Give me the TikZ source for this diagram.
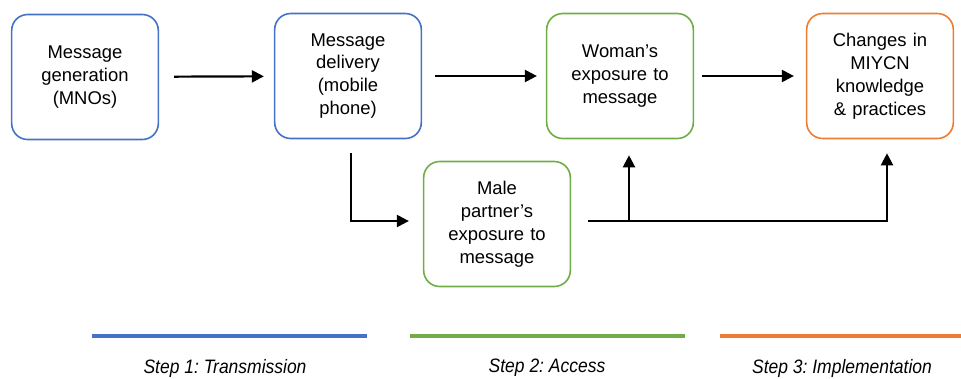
\documentclass[tikz,border=0pt]{standalone}
\usepackage{fontspec}
\setmainfont{Liberation Sans}
\usetikzlibrary{arrows.meta}
\frenchspacing
\definecolor{stepblue}{HTML}{4472C4}
\definecolor{stepgreen}{HTML}{70AD47}
\definecolor{steporange}{HTML}{ED7D31}
\tikzset{
    box/.style={draw, line width=1.6bp, rounded corners=16bp, minimum width=146bp, minimum height=125bp,
        align=center, text width=140bp, font=\fontsize{18.5}{23}\selectfont},
    arr/.style={line width=2.2bp, -{Triangle[length=12bp,width=12bp]}},
    steplabel/.style={font=\fontsize{19.5}{22}\selectfont\itshape, xscale=0.9}
}
\begin{document}
\begin{tikzpicture}[x=1bp, y=-1bp]
            \useasboundingbox (0,0) rectangle (961,378);

            \node[box, draw=stepblue] (gen) at (85,77) {Message\\generation\\(MNOs)};
            \node[box, draw=stepblue] (deliv) at (348,76) {Message\\delivery\\(mobile\\phone)\\[4bp]};
            \node[box, draw=stepgreen] (woman) at (620,76) {Woman's\\exposure to\\message};
            \node[box, draw=steporange] (change) at (880,76) {Changes in\\MIYCN\\knowledge\\\& practices\\[4bp]};
            \node[box, draw=stepgreen] (male) at (497,224) {Male\\partner's\\exposure to\\message};

            \draw[arr, shorten <=15bp, shorten >=10bp] (gen) -- (deliv);
            \draw[arr, shorten <=13bp, shorten >=9bp] (deliv) -- (woman);
            \draw[arr, shorten <=8bp, shorten >=12bp] (woman) -- (change);

            \draw[arr] ([xshift=3bp, yshift=-14bp]deliv.south) |- ([xshift=-14bp, yshift=3bp]male.west);
            \draw[arr] ([xshift=17bp, yshift=3bp]male.east) -| ([xshift=7bp, yshift=-14bp]change.south);
            \coordinate (branch) at ([xshift=9bp]woman.south |- male.east);
            \draw[arr] ([yshift=3bp]branch) -- ([xshift=9bp, yshift=-16bp]woman.south);

            % steps
            \draw[stepblue, line width=4bp] (92,336) -- (367,336);
            \draw[stepgreen, line width=4bp] (410,336) -- (685,336);
            \draw[steporange, line width=4bp] (720,336) -- (961,336);

            \node[steplabel] (step1) at (225,368) {Step 1: Transmission};
            \node[steplabel] (step2) at (547,368) {Step 2: Access};
            \node[steplabel] (step3) at (842,368) {Step 3: Implementation};
        \end{tikzpicture}
\end{document}
